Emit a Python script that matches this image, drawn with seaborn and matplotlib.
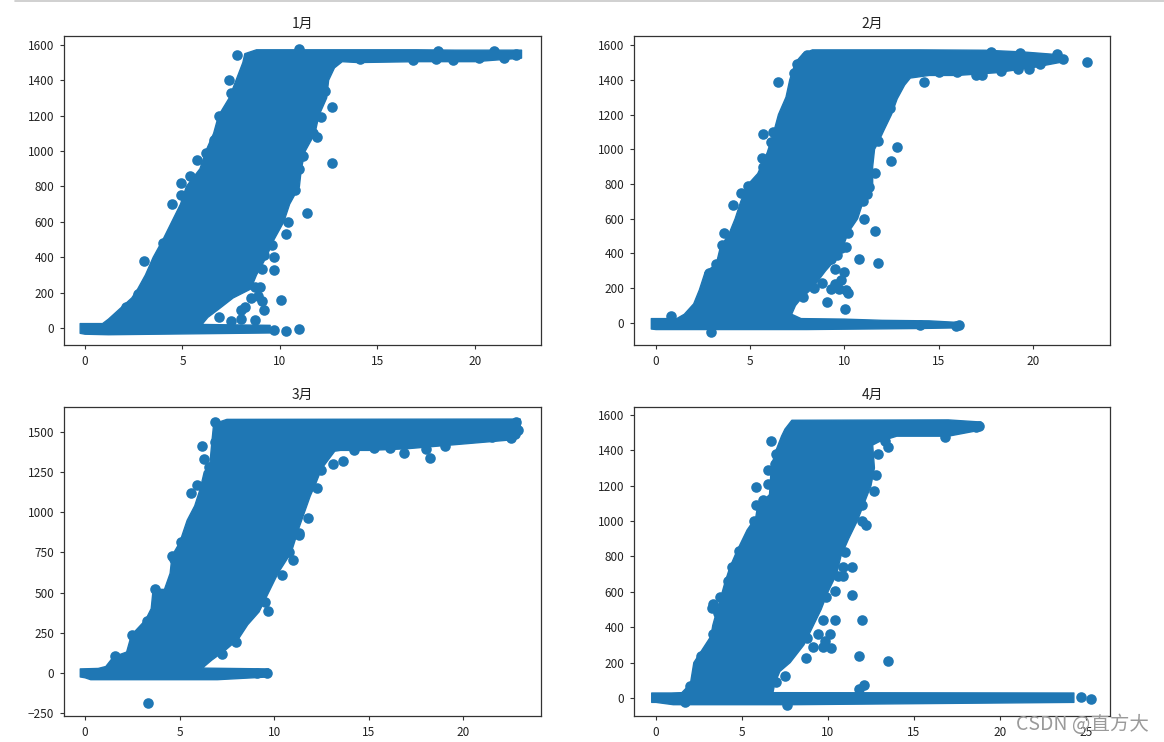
import matplotlib
matplotlib.use("Agg")
import matplotlib.pyplot as plt
from matplotlib.lines import Line2D
import seaborn as sns

sns.set_style("ticks")
plt.rcParams['font.family'] = ['Noto Sans CJK SC', 'DejaVu Sans']
plt.rcParams['axes.unicode_minus'] = True

BLUE = '#1f77b4'
titles = ['1月', '2月', '3月', '4月']

# Outer edge of each solid, over-plotted cloud
jan_hull_x = [-0.25,-0.25,0.9,1.2,1.7,2.4,2.7,3.1,3.5,4,4.45,4.9,5.2,5.9,6.2,6.6,6.85,7.4,7.75,8.1,8.2,8.8,17,19,22.4,22.4,20,17,14,13.2,12.8,12.5,12.4,12.0,11.8,11.3,11.1,11.0,10.5,10.2,9.7,9.3,8.8,8.5,7.6,6.9,6.3,6,9.5,9.5,1.2,0]
jan_hull_y = [-30,25,25,50,100,170,220,300,400,500,600,700,800,900,1000,1100,1200,1300,1400,1500,1550,1572,1572,1570,1570,1525,1505,1505,1500,1505,1470,1400,1300,1200,1100,1000,900,800,700,600,500,400,300,220,170,110,60,20,15,-28,-38,-35]
feb_hull_x = [-0.25,-0.25,1.1,1.5,2.0,2.3,2.6,3.2,3.4,3.9,4.2,4.5,4.9,5.4,5.9,6.2,6.5,6.9,7.1,7.4,7.8,8.3,14,17.5,19.5,21.3,21.7,20,18,16,14.5,13.5,13.2,12.8,12.5,12.1,11.8,11.6,11.5,11.5,11.0,10.7,10.2,9.8,9.0,8.3,7.7,7.4,7.2,7.7,10,12,14.5,16.2,16.2,14,8,0]
feb_hull_y = [-35,25,25,50,110,190,290,340,430,520,600,700,800,860,980,1080,1200,1300,1400,1500,1550,1572,1572,1570,1560,1545,1505,1470,1440,1425,1425,1410,1370,1290,1200,1110,1040,1000,900,800,700,600,520,400,300,200,140,100,50,25,22,15,12,2,-28,-32,-38,-38]
mar_hull_x = [-0.25,-0.25,0.7,1.1,1.5,2.2,2.45,3.2,3.5,3.6,4.2,4.5,4.6,5.0,5.4,5.8,6.1,6.3,6.6,6.7,6.8,7.5,23,23,22.5,20,17,15,13.5,13.2,12.5,12.2,11.9,11.6,11.3,10.9,10.2,9.7,9.2,8.6,8.1,7.4,6.7,6.2,9.7,9.7,7,0.3,0]
mar_hull_y = [-25,25,28,40,100,130,235,330,400,520,520,620,730,810,950,1040,1150,1250,1300,1430,1550,1578,1580,1500,1450,1425,1395,1385,1385,1380,1270,1180,1100,1000,900,750,620,500,380,300,210,140,80,30,25,-25,-42,-42,-30]
apr_hull_x = [-0.25,-0.25,0.9,1.5,2.0,2.2,2.6,3.2,3.3,3.5,3.8,4.0,4.3,4.7,5.3,5.8,5.9,6.6,6.7,6.9,7.3,7.5,7.9,17,18.9,18.9,17,14,13,12.6,12.7,12.5,12.1,11.7,11.2,10.75,10.5,10,9.6,9.1,8.6,7.8,7.2,6.9,6.8,24.3,24.3,8,1,0]
apr_hull_y = [-25,28,28,30,80,200,260,350,410,480,580,650,740,830,950,1020,1080,1150,1300,1380,1480,1520,1570,1572,1560,1515,1480,1480,1450,1430,1300,1200,1100,1000,900,800,700,600,500,400,300,200,150,80,30,28,-25,-38,-38,-25]

# Stray points outside and along the edge of the solid clouds
jan_x = [6.9,7.5,8,8,8.2,8.5,8.7,9.0,9.1,8.9,9.2,8.7,9.1,9.7,9.7,9.2,9.6,10.3,10.05,11.4,12.65,12.65,12.1,11.9,11.2,5.75,4.45,4.9,3.05,4.9,7.8,11,7.4,7.5,6.9,9.7,10.3,11,5.4,6.2,6.6,7.1,2.1,2.7,3.4,4.0,10.4,10.8,11.0,12.3,12.2,11.7,14.1,16.85,18,18.9,20.2,21.5,22.1,22.1,18.1,21]
jan_y = [60,40,50,100,120,170,230,230,150,180,100,45,335,330,400,410,470,530,160,650,935,1250,1195,1080,970,950,700,750,380,820,1540,1575,1400,1330,1200,-12,-15,-8,860,990,1060,1170,120,190,300,480,600,780,900,1340,1410,1100,1520,1515,1520,1515,1525,1525,1545,1550,1565,1565]
feb_x = [22.9,21.6,21.3,20.4,19.8,14.2,6.5,5.7,6.2,5.6,12.8,12.5,11.6,11.2,11.3,11.2,11,11.05,11.6,10.2,11.8,10.75,10.1,9.8,9.6,9.3,9.5,10,9.8,9.5,9.3,9.7,10.1,10.2,9.1,10.05,8.8,8.4,7.8,4.5,4.1,4.9,3.6,3.5,2.9,0.8,2.8,3.2,6.1,5.7,12.4,11.8,11.3,17.3,17.0,18.3,19.2,16,15,17.8,19.3,8,14,15.9,16.1,7.3,7.5]
feb_y = [1505,1520,1550,1490,1460,1385,1385,1085,1100,950,1015,930,865,890,780,740,700,600,530,515,345,370,435,430,390,370,310,295,250,225,195,195,190,175,120,80,230,200,150,750,680,790,515,450,-50,40,290,340,1040,900,1240,1050,1060,1430,1430,1450,1460,1445,1445,1560,1555,1540,-10,-15,-13,1440,1490]
mar_x = [3.35,7.25,8.0,9.65,9.5,10.4,11.8,11.3,12.25,12.45,13.65,18.25,16.85,6.2,5.6,5.9,6.4,3.7,2.5,4.6,5.05,22.5,22.8,6.85,6.85,1.6,3.3,4.7,6.3,6.55,10.8,11.0,11.3,13.1,14.2,15.3,16.1,18,19,20.4,21.5,22.7,22.9,9.6,9.1]
mar_y = [-190,115,190,385,440,610,965,870,1150,1265,1320,1335,1370,1410,1120,1170,1170,525,235,730,815,1460,1560,1440,1560,105,325,710,1330,1280,750,700,860,1300,1390,1400,1400,1395,1410,1545,1470,1490,1510,0,-3]
apr_x = [25.3,24.7,6.7,5.8,6.5,5.8,5.7,3.3,3.25,3.7,3.3,2.6,4.4,4.8,12.8,12.9,13.5,12.7,12.0,12.2,11.0,11.4,10.9,10.6,10.9,10.4,11.4,9.9,12.0,10.4,9.7,10.1,9.4,9.8,9.7,10.2,9.1,8.7,7.5,7,11.8,13.5,12.1,11.8,8.8,3.6,4.2,6.9,7.0,6.5,6.2,12.0,12.3,16.8,18.6,18.8,13.3,2.0,1.7,7.6]
apr_y = [-8,5,1450,1190,1210,1090,1000,530,510,570,360,240,740,830,1260,1380,1420,1170,1000,980,825,740,740,690,690,605,580,570,440,440,440,360,360,320,290,285,290,225,125,90,240,210,75,50,340,480,660,1320,1380,1290,1120,1090,1300,1475,1530,1540,1450,70,-25,-40]

hulls = [(jan_hull_x, jan_hull_y), (feb_hull_x, feb_hull_y), (mar_hull_x, mar_hull_y), (apr_hull_x, apr_hull_y)]
points = [(jan_x, jan_y), (feb_x, feb_y), (mar_x, mar_y), (apr_x, apr_y)]
xlims = [(-1.08, 23.4), (-1.17, 24.1), (-1.11, 24.1), (-1.28, 26.4)]
ylims = [(-96, 1650), (-127, 1652), (-268, 1655), (-102, 1645)]
yticks = [range(0, 1601, 200), range(0, 1601, 200), range(-250, 1501, 250), range(0, 1601, 200)]
xticks = [range(0, 21, 5), range(0, 21, 5), range(0, 21, 5), range(0, 26, 5)]
boxes = [(64, 36, 541, 345), (634, 36, 1110, 345), (64, 407, 541, 716), (634, 407, 1110, 716)]

W, H = 1164, 742
fig = plt.figure(figsize=(W / 100, H / 100), dpi=100)

for i in range(4):
    l, t, r, b = boxes[i]
    ax = fig.add_axes([l / W, 1 - b / H, (r - l) / W, (b - t) / H])
    hx, hy = hulls[i]
    ax.fill(hx, hy, facecolor=BLUE, edgecolor=BLUE, linewidth=1.0, joinstyle='round', zorder=2)
    px, py = points[i]
    sns.scatterplot(x=px, y=py, ax=ax, color=BLUE, s=58, linewidth=0, zorder=3)
    ax.set_xlim(*xlims[i])
    ax.set_ylim(*ylims[i])
    ax.set_xticks(list(xticks[i]))
    ax.set_yticks(list(yticks[i]))
    ax.tick_params(labelsize=8.5, length=3, width=0.8, color='#333333', labelcolor='#222222', pad=4)
    ax.set_title(titles[i], fontsize=10, color='#222222', pad=6)
    for s in ax.spines.values():
        s.set_visible(True)
        s.set_color('#333333')
        s.set_linewidth(0.9)

fig.add_artist(Line2D([15 / W, 1], [1 - 0.8 / H, 1 - 0.8 / H], color='#c8c8c8', lw=1.2))
fig.text(1149 / W, 1 - 724 / H, 'CSDN @直方大', ha='right', va='center', fontsize=14, color='#9a9a9a')

fig.savefig('out.png', dpi=100, facecolor='white')
